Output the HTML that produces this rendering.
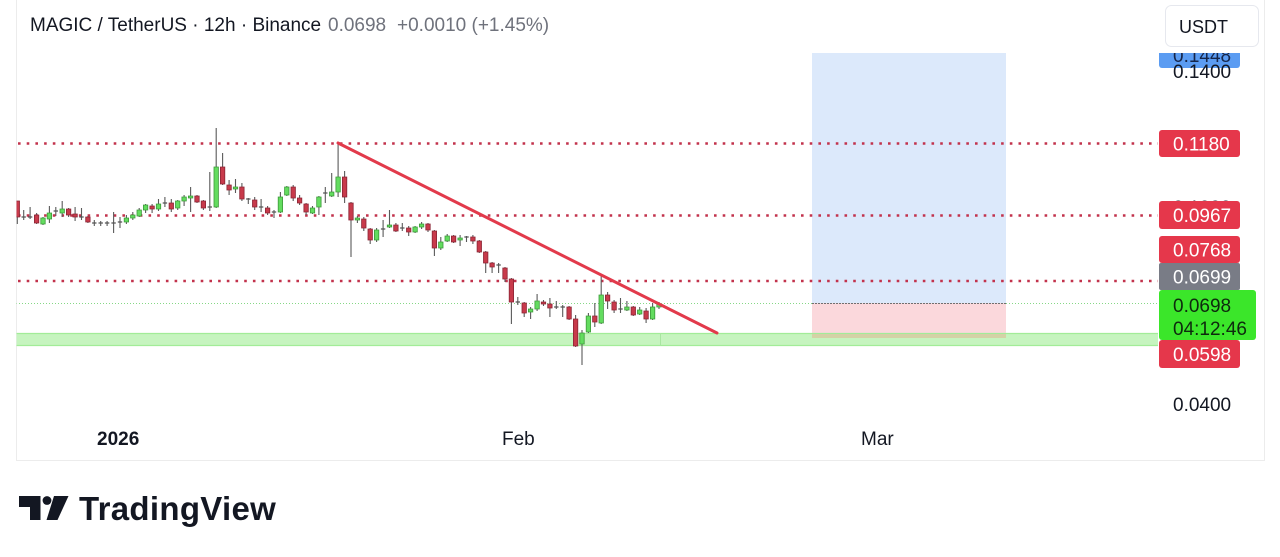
<!DOCTYPE html>
<html><head><meta charset="utf-8"><style>
html,body{margin:0;padding:0;background:#fff;width:1280px;height:557px;overflow:hidden}
svg{display:block}
text{font-family:"Liberation Sans",Arial,sans-serif}
</style></head><body>
<svg width="1280" height="557" viewBox="0 0 1280 557" xmlns="http://www.w3.org/2000/svg">
<defs>
<clipPath id="pane"><rect x="16.5" y="0" width="1142" height="460"/></clipPath>
<clipPath id="blueclip"><rect x="1150" y="53" width="100" height="20"/></clipPath>
</defs>
<rect width="1280" height="557" fill="#fff"/>
<path d="M16.5 0V460.5H1264.5V0" fill="none" stroke="#ececec"/>
<g clip-path="url(#pane)">
<rect x="812" y="53" width="194" height="250" fill="#dce9fb"/>
<rect x="812" y="303" width="194" height="35" fill="#fbd8dc"/>
<line x1="812" y1="303.5" x2="1006" y2="303.5" stroke="#707070" stroke-dasharray="2 1"/>
<rect x="16" y="333" width="1142" height="13" fill="#c6f4bf"/>
<path d="M16 333.5H1158M16 345.5H1158" stroke="#a2ec98" stroke-width="1.2"/>
<path d="M660.5 333V346" stroke="#a8e6a0"/>
<rect x="812" y="334" width="194" height="4" fill="#d4d2a6"/>
<path d="M16 303.5H812M1006 303.5H1158" stroke="#86d886" stroke-dasharray="1 2"/>
<path d="M18 143.5H1158M18 215.5H1158M18 281H1158" stroke="#c2324c" stroke-width="2.6" stroke-dasharray="2.6 6.1"/>
<path fill="none" stroke="#5a5a5a" stroke-width="1.1" d="M17.3 201V224M23.7 210V220M30.1 207V219M36.6 213V224M43 217V225M49.4 206V223M55.8 207V216M62.2 201V217M68.6 208V217M75.1 207V221M81.5 208V220M87.9 216V223M94.3 220V226M100.7 221V226M107.1 221V226M113.6 212V233M120 217V228M126.4 215V224M132.8 212V220M139.2 208V217M145.6 204V213M152.1 204V213M158.5 199V211M164.9 197V207M171.3 199V212M177.7 200V210M184.1 195V206M190.6 187V212M197 195V203M203.4 200V210M209.8 172V211M216.2 128V208M222.6 153V185M229.1 180V195M235.5 179V193M241.9 183V201M248.3 198V204M254.7 197V210M261.1 199V212M267.6 206V215M274 210V218M280.4 192V213M286.8 186V196M293.2 185V201M299.6 195V205M306.1 203V215M312.5 206V214M318.9 196V215M325.3 187V203M331.7 173V197M338.1 143V197M344.6 171V203M351 202V257M357.4 216V223M363.8 217V231M370.2 228V244M376.6 228V242M383.1 220V237M389.5 210V228M395.9 223V232M402.3 223V231M408.7 226V236M415.1 226V233M421.6 222V229M428 223V232M434.4 230V256M440.8 237V250M447.2 234V242M453.6 235V243M460.1 235V246M466.5 236V242M472.9 235V244M479.3 240V253M485.7 251V273M492.1 262V273M498.6 263V273M505 267V282M511.4 278V324M517.8 297V305M524.2 302V317M530.6 307V319M537.1 294V311M543.5 300V306M549.9 298V317M556.3 301V309M562.7 305V317M569.1 306V320M575.6 315V347M582 330V365M588.4 313V333M594.8 303V327M601.2 275V324M607.6 292V309M614.1 300V313M620.5 298V313M626.9 301V311M633.3 306V316M639.7 307V315M646.1 308V323M652.6 303V320M659 302V309"/>
<path fill="#63dc5f" stroke="#3c9a3a" stroke-width="0.8" d="M40.8 218h4.4v6h-4.4zM47.2 213h4.4v6h-4.4zM60 209h4.4v4h-4.4zM124.2 218h4.4v4h-4.4zM130.6 215h4.4v3h-4.4zM137 210h4.4v6h-4.4zM143.4 205h4.4v5h-4.4zM156.3 204h4.4v5h-4.4zM175.5 201h4.4v7h-4.4zM181.9 197h4.4v4h-4.4zM188.4 196h4.4v2h-4.4zM214 167h4.4v40h-4.4zM233.3 187h4.4v2h-4.4zM278.2 197h4.4v15h-4.4zM284.6 187h4.4v8h-4.4zM310.3 208h4.4v5h-4.4zM316.7 197h4.4v10h-4.4zM329.5 192h4.4v4h-4.4zM335.9 177h4.4v15h-4.4zM355.2 218h4.4v2h-4.4zM374.4 230h4.4v10h-4.4zM387.3 225h4.4v2h-4.4zM412.9 227h4.4v5h-4.4zM419.4 224h4.4v3h-4.4zM438.6 242h4.4v6h-4.4zM445 236h4.4v5h-4.4zM457.9 238h4.4v2h-4.4zM528.4 309h4.4v3h-4.4zM534.9 301h4.4v8h-4.4zM579.8 333h4.4v11h-4.4zM586.2 316h4.4v16h-4.4zM599 295h4.4v28h-4.4zM624.7 307h4.4v3h-4.4zM637.5 310h4.4v4h-4.4zM650.4 307h4.4v12h-4.4zM656.8 304h4.4v3h-4.4z"/>
<path fill="#c83a4b" stroke="#8a2535" stroke-width="0.8" d="M15.1 201h4.4v16h-4.4zM34.4 215h4.4v8h-4.4zM66.4 209h4.4v6h-4.4zM72.9 214h4.4v3h-4.4zM85.7 217h4.4v5h-4.4zM149.9 206h4.4v3h-4.4zM169.1 203h4.4v6h-4.4zM194.8 196h4.4v6h-4.4zM201.2 201h4.4v7h-4.4zM220.4 167h4.4v17h-4.4zM226.9 185h4.4v5h-4.4zM239.7 187h4.4v12h-4.4zM252.5 200h4.4v7h-4.4zM265.4 208h4.4v5h-4.4zM291 187h4.4v11h-4.4zM297.4 198h4.4v5h-4.4zM303.9 204h4.4v8h-4.4zM342.4 177h4.4v20h-4.4zM348.8 203h4.4v17h-4.4zM361.6 219h4.4v9h-4.4zM368 229h4.4v11h-4.4zM393.7 225h4.4v6h-4.4zM406.5 228h4.4v4h-4.4zM425.8 224h4.4v6h-4.4zM432.2 231h4.4v17h-4.4zM451.4 236h4.4v6h-4.4zM470.7 237h4.4v4h-4.4zM477.1 241h4.4v11h-4.4zM483.5 252h4.4v11h-4.4zM489.9 263h4.4v4h-4.4zM502.8 268h4.4v11h-4.4zM509.2 279h4.4v23h-4.4zM522 303h4.4v10h-4.4zM541.3 302h4.4v2h-4.4zM547.7 304h4.4v4h-4.4zM566.9 307h4.4v12h-4.4zM573.4 319h4.4v27h-4.4zM592.6 316h4.4v6h-4.4zM605.4 295h4.4v6h-4.4zM611.9 302h4.4v8h-4.4zM631.1 307h4.4v8h-4.4zM643.9 311h4.4v8h-4.4z"/>
<path fill="none" stroke="#555" stroke-width="1.3" d="M21.5 217h4.4M27.9 217h4.4M53.6 211h4.4M79.3 217h4.4M92.1 223h4.4M98.5 223h4.4M104.9 223h4.4M111.4 223h4.4M117.8 222h4.4M162.7 203h4.4M207.6 207h4.4M246.1 199h4.4M258.9 207h4.4M271.8 212h4.4M323.1 193h4.4M380.9 229h4.4M400.1 228h4.4M464.3 237h4.4M496.4 265h4.4M515.6 302h4.4M554.1 307h4.4M560.5 307h4.4M618.3 309h4.4"/>
<line x1="338" y1="143" x2="717" y2="333" stroke="#e23a4b" stroke-width="3" stroke-linecap="round"/>
</g>
<text x="30" y="31" font-size="19" fill="#131722">MAGIC / TetherUS · 12h · Binance</text>
<text x="328" y="31" font-size="19" fill="#6f727c">0.0698</text>
<text x="397" y="31" font-size="19" fill="#6f727c">+0.0010 (+1.45%)</text>
<rect x="1165.5" y="5.5" width="93" height="41" rx="6" fill="#fff" stroke="#e6e8ee"/>
<text x="1179" y="33" font-size="18" fill="#131722">USDT</text>
<g clip-path="url(#blueclip)">
<rect x="1159" y="45" width="81" height="23" rx="3" fill="#5b9cf2"/>
<text x="1173" y="62" font-size="19" fill="#16264a">0.1448</text>
</g>
<text x="1173" y="78" font-size="19" fill="#131722">0.1400</text>
<text x="1173" y="214" font-size="19" fill="#131722">0.1000</text>
<text x="1173" y="411" font-size="19" fill="#131722">0.0400</text>
<rect x="1159" y="130" width="81" height="27" rx="3" fill="#e5374b"/>
<text x="1173" y="150.5" font-size="19" fill="#fff">0.1180</text>
<rect x="1159" y="201" width="81" height="28" rx="3" fill="#e5374b"/>
<text x="1173" y="222" font-size="19" fill="#fff">0.0967</text>
<rect x="1159" y="236" width="81" height="27" rx="3" fill="#e5374b"/>
<text x="1173" y="256.5" font-size="19" fill="#fff">0.0768</text>
<rect x="1159" y="263" width="81" height="27" rx="2" fill="#797c86"/>
<text x="1173" y="283.5" font-size="19" fill="#fff">0.0699</text>
<rect x="1159" y="290" width="97" height="50" rx="3" fill="#3be62a"/>
<text x="1173" y="312" font-size="19" fill="#0e2a0e">0.0698</text>
<text x="1173" y="335" font-size="19" fill="#0e2a0e">04:12:46</text>
<rect x="1159" y="340" width="81" height="28" rx="3" fill="#e5374b"/>
<text x="1173" y="361" font-size="19" fill="#fff">0.0598</text>
<text x="97" y="445" font-size="19" font-weight="bold" fill="#131722">2026</text>
<text x="502" y="445" font-size="19" fill="#131722">Feb</text>
<text x="861" y="445" font-size="19" fill="#131722">Mar</text>
<path d="M19 496H40.5V520H30V507H19Z" fill="#131722"/>
<circle cx="47" cy="500.5" r="4.4" fill="#131722"/>
<path d="M54 496H68.5L57.5 520H46.5Z" fill="#131722"/>
<text x="79" y="520" font-size="33" font-weight="bold" fill="#131722" letter-spacing="0.3">TradingView</text>
</svg>
</body></html>
